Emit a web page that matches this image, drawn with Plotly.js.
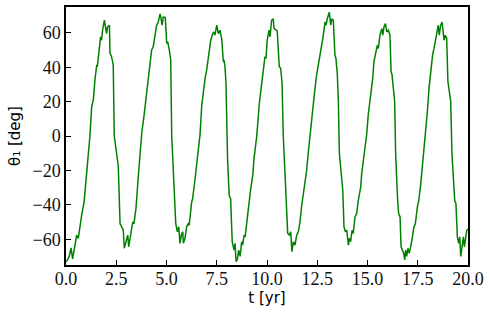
<!DOCTYPE html>
<html>
<head>
<meta charset="utf-8">
<script src="https://cdn.plot.ly/plotly-3.0.1.min.js"></script>
<style>html,body{margin:0;padding:0;background:#fff;}#chart{width:490px;height:317px;}</style>
</head>
<body>
<div id="chart"></div>
<script>
const t = [0.00,0.08,0.16,0.25,0.33,0.45,0.53,0.61,0.70,0.78,0.90,1.00,1.11,1.19,1.28,1.36,1.44,1.53,1.56,1.66,1.72,1.77,1.82,1.91,1.96,2.02,2.07,2.16,2.19,2.27,2.35,2.40,2.60,2.65,2.69,2.77,2.85,2.90,2.99,3.07,3.12,3.22,3.32,3.38,3.48,3.60,3.68,3.77,3.88,3.98,4.10,4.18,4.26,4.34,4.43,4.51,4.59,4.68,4.73,4.78,4.84,4.94,5.01,5.06,5.14,5.21,5.26,5.34,5.39,5.46,5.54,5.61,5.67,5.74,5.81,5.84,5.92,6.00,6.08,6.13,6.25,6.30,6.42,6.50,6.58,6.67,6.75,6.83,6.92,7.00,7.08,7.13,7.20,7.30,7.36,7.41,7.50,7.58,7.66,7.75,7.83,7.86,7.91,7.96,8.00,8.04,8.12,8.19,8.27,8.36,8.41,8.46,8.52,8.59,8.66,8.74,8.79,8.86,8.91,9.02,9.07,9.19,9.29,9.35,9.49,9.62,9.74,9.82,9.90,9.95,10.01,10.10,10.15,10.23,10.31,10.35,10.43,10.51,10.61,10.68,10.75,10.81,10.90,10.95,11.03,11.11,11.18,11.24,11.31,11.39,11.48,11.56,11.64,11.72,11.81,11.90,11.97,12.05,12.15,12.22,12.30,12.38,12.47,12.55,12.64,12.72,12.78,12.84,12.89,12.94,13.00,13.10,13.17,13.23,13.30,13.38,13.43,13.50,13.55,13.60,13.67,13.72,13.77,13.83,13.90,13.97,14.05,14.10,14.16,14.23,14.29,14.38,14.46,14.54,14.66,14.71,14.79,14.88,14.96,15.04,15.12,15.21,15.26,15.32,15.42,15.49,15.54,15.62,15.71,15.76,15.82,15.89,15.96,16.04,16.12,16.17,16.22,16.28,16.35,16.40,16.45,16.50,16.55,16.62,16.67,16.73,16.80,16.85,16.90,16.95,17.01,17.08,17.15,17.21,17.31,17.38,17.48,17.55,17.65,17.71,17.81,17.91,17.98,18.06,18.16,18.24,18.31,18.37,18.44,18.52,18.57,18.64,18.71,18.74,18.81,18.87,18.94,19.00,19.07,19.14,19.20,19.27,19.34,19.40,19.47,19.54,19.59,19.64,19.70,19.77,19.82,19.89,19.94,20.00];
const theta1 = [-73,-72,-70,-65,-71.5,-63.4,-57.6,-59.5,-51.9,-46,-38.4,-25,-11.5,0,17.3,21,32.7,41.3,40.3,53.8,57.6,55.7,61.5,67.3,64.4,59.5,63.4,64.4,48,46,41.3,0,-17.3,-30.7,-51,-52.8,-54.8,-65.3,-61.5,-57.6,-64.4,-55.7,-50,-51,-42.3,-23,-11.5,1.9,11.5,21,33.6,42.3,50,51.9,59.5,64.4,66.3,71,68.2,64.4,69.2,68.8,53.8,54.8,50,44.2,0,-21,-25,-51,-55.7,-52.8,-62.4,-57.6,-55.7,-62.4,-59.5,-52.8,-51,-51.9,-38.4,-36.5,-25,-17.3,-7.7,1,17.3,26.9,33.6,38.4,46.1,48,55.7,59.5,60.5,58.6,64.4,59.5,61.5,56,43,44.2,40.3,30.7,5,-14,-34.6,-36.5,-61.5,-66.3,-62.4,-73,-72,-66.3,-70,-61.5,-63.4,-57.6,-58.6,-46.1,-44.2,-30.7,-23,-13.4,0,19.2,30.7,40.3,46.1,45.1,55.7,61.5,57.6,67.3,68.2,62.4,61.5,61.1,40.3,39.4,30.7,0,-23,-34.6,-56.7,-57.6,-55.7,-67.3,-61.5,-63.4,-57.6,-55.7,-50,-41,-33.6,-27,-20.2,-10,2,10,18,27,35.6,42,49,52.8,57,62,66.3,64.4,68.2,72,64.4,68.2,67.3,47,45.1,35.6,20.2,-10,-20.2,-27.8,-31.7,-52.8,-55.7,-54.8,-63.4,-59.5,-61.5,-54.8,-56.7,-47,-45.1,-37.5,-29.8,-22,-14.4,-9,1,12.5,20.2,31.7,33.6,43.2,49,52.8,50.9,58.6,62.4,58.6,63.4,65.4,60.5,61.5,58.6,37.5,35.6,25.9,20.2,-10,-25.9,-37.5,-45.1,-47,-64.4,-66.3,-68.2,-72,-66.3,-70,-65.3,-68.2,-62.4,-60.5,-52.8,-51,-41.3,-37.5,-27.8,-20.2,-10,4.8,14.4,27.8,39.4,47.1,50.9,54.8,60.5,64.4,58.6,64.4,66.3,62.4,55.7,58.6,56.7,31.7,25.9,20.2,-10,-27.8,-37.5,-39.4,-58.6,-62.4,-58.6,-70,-64.4,-58.6,-64.4,-58.6,-54.8,-54];
const xTickVals = [0,2.5,5,7.5,10,12.5,15,17.5,20];
const xTickText = ['0.0','2.5','5.0','7.5','10.0','12.5','15.0','17.5','20.0'];
const yTickVals = [-60,-40,-20,0,20,40,60];
const yTickText = ['\u221260','\u221240','\u221220','0','20','40','60'];

const data = [{x:t, y:theta1, type:'scatter', mode:'lines', line:{color:'#008000', width:1.5}}];
const layout = {
  width:490, height:317,
  margin:{l:66, r:22, t:5, b:52},
  showlegend:false,
  xaxis:{range:[0,20], tickvals:xTickVals, ticktext:xTickText, ticks:'inside', ticklen:5, tickwidth:1.2, tickcolor:'#000',
    showline:true, mirror:true, linecolor:'#000', linewidth:1.5, showgrid:false, zeroline:false,
    tickfont:{family:'Liberation Serif', size:18, color:'#111'}, ticklabelstandoff:-3, automargin:true,
    title:{text:'t [yr]', font:{family:'DejaVu Sans', size:15, color:'#000'}, standoff:3}},
  yaxis:{range:[-75,75], tickvals:yTickVals, ticktext:yTickText, ticks:'inside', ticklen:5, tickwidth:1.2, tickcolor:'#000',
    showline:true, mirror:true, linecolor:'#000', linewidth:1.5, showgrid:false, zeroline:false,
    tickfont:{family:'Liberation Serif', size:18, color:'#111'}, automargin:true,
    title:{text:'θ\u2081 [deg]', font:{family:'DejaVu Sans', size:15, color:'#000'}, standoff:8}}
};
Plotly.newPlot('chart', data, layout, {displayModeBar:false});
</script>
</body>
</html>
